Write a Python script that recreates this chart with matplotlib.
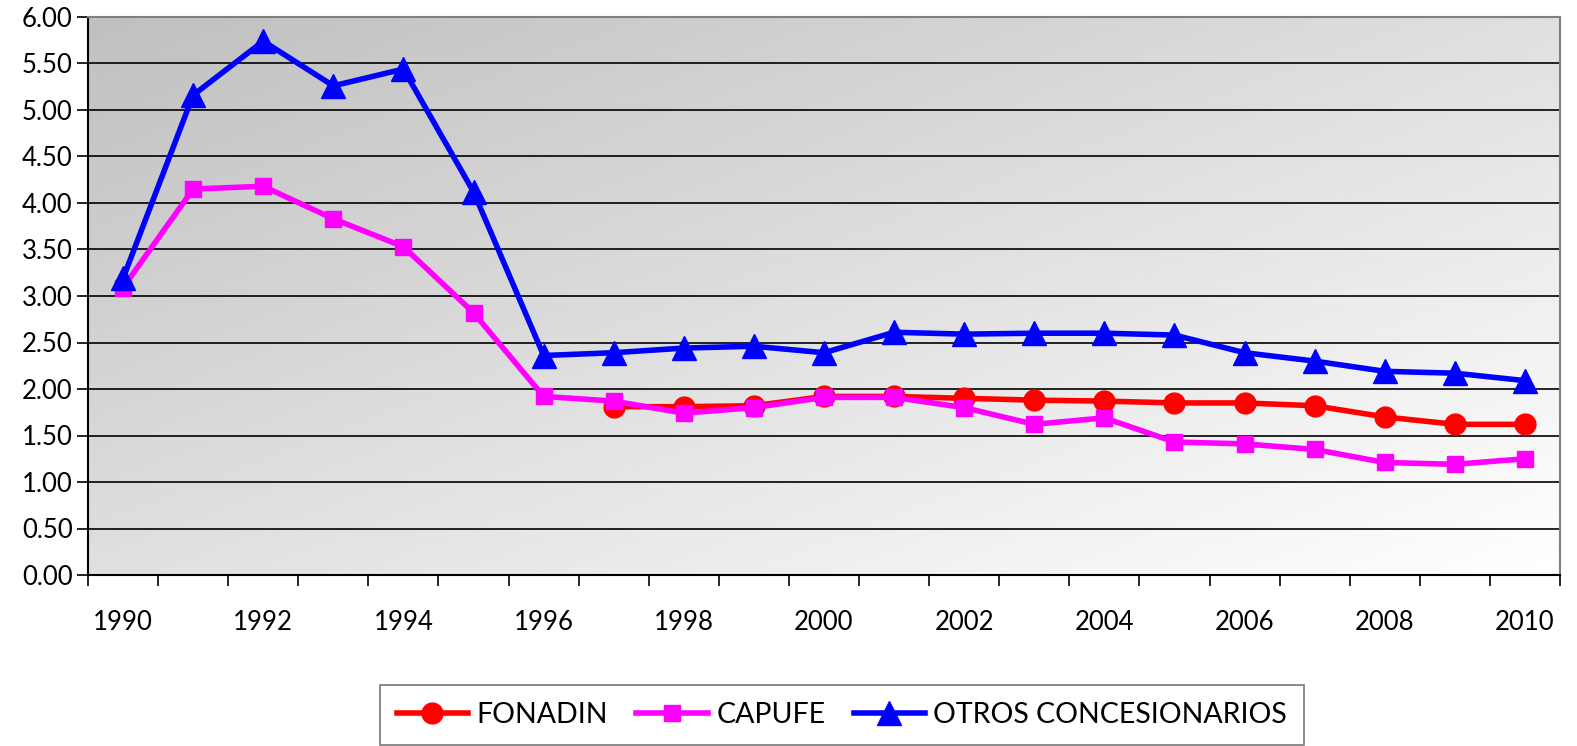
import numpy as np
import matplotlib.pyplot as plt

# data
years = list(range(1990, 2011))
fonadin = [None, None, None, None, None, None, None,
           1.81, 1.81, 1.82, 1.92, 1.92, 1.90, 1.88, 1.87, 1.85, 1.85,
           1.82, 1.70, 1.62, 1.62]
capufe = [3.09, 4.15, 4.18, 3.83, 3.53, 2.82, 1.92, 1.87, 1.74, 1.80,
          1.91, 1.91, 1.80, 1.62, 1.69, 1.43, 1.41, 1.35, 1.21, 1.19, 1.25]
otros = [3.19, 5.16, 5.74, 5.26, 5.44, 4.12, 2.36, 2.39, 2.44, 2.46,
         2.39, 2.61, 2.59, 2.60, 2.60, 2.58, 2.39, 2.30, 2.19, 2.17, 2.09]
yticks = np.arange(0, 6.01, 0.5)

plt.rcParams['font.family'] = ['Liberation Sans Narrow', 'Lato', 'DejaVu Sans']

fig = plt.figure(figsize=(15.77, 7.46), dpi=100)
ax = fig.add_axes([88/1577, 1 - 575/746, (1560 - 88)/1577, (575 - 17)/746])

x = np.arange(len(years))
ax.set_xlim(-0.5, len(years) - 0.5)
ax.set_ylim(0, 6)

# gradient background, dark top-left to white bottom-right
gx, gy = np.meshgrid(np.linspace(0, 1, 200), np.linspace(0, 1, 200))
grad = 0.75 + 0.25 * (gx * 0.5 + gy * 0.5)
ax.imshow(grad, cmap='gray', vmin=0, vmax=1, extent=[0, 1, 0, 1],
          transform=ax.transAxes, aspect='auto', zorder=0, origin='upper')

ax.set_yticks(yticks)
ax.set_yticklabels(['%.2f' % v for v in yticks], fontsize=18.5)
ax.yaxis.grid(True, color='black', linewidth=1.2, zorder=1)
ax.set_axisbelow(True)

# ticks at category boundaries, labels every other year
ax.set_xticks(np.arange(-0.5, len(years), 1))
ax.set_xticklabels([])
ax.set_xticks(x[::2], minor=True)
ax.set_xticklabels([str(y) for y in years[::2]], minor=True, fontsize=18.5)
ax.tick_params(axis='x', which='major', length=8, width=1.2, direction='out')
ax.tick_params(axis='x', which='minor', length=0, pad=25)
ax.tick_params(axis='y', length=8, width=1.2, direction='out', pad=3)

for s in ['top', 'right']:
    ax.spines[s].set_color('#808080')
    ax.spines[s].set_linewidth(1.5)
for s in ['left', 'bottom']:
    ax.spines[s].set_color('black')
    ax.spines[s].set_linewidth(1.5)

fon = np.array([np.nan if v is None else v for v in fonadin])
ax.plot(x, fon, color='#ff0000', linewidth=4, marker='o', markersize=15,
        label='FONADIN', zorder=3)
ax.plot(x, capufe, color='#ff00ff', linewidth=4, marker='s', markersize=12,
        label='CAPUFE', zorder=4)
ax.plot(x, otros, color='#0000ff', linewidth=4, marker='^', markersize=17,
        label='OTROS CONCESIONARIOS', zorder=5)

leg = fig.legend(loc='center', bbox_to_anchor=(842/1577, 1 - 715/746), ncol=3,
                 fontsize=20.5, frameon=True, fancybox=False, edgecolor='#555555',
                 handlelength=2.5, columnspacing=1.0, handletextpad=0.3,
                 borderpad=0.6)
leg.get_frame().set_linewidth(1.2)

fig.savefig('out.png', dpi=100)
